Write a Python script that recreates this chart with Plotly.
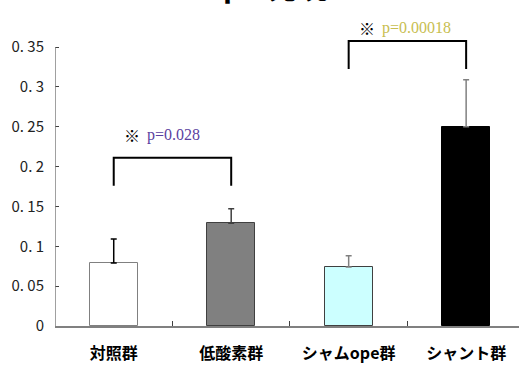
import plotly.graph_objects as go

# Group labels, means and upper error (SD)
groups = ["対照群", "低酸素群", "シャムope群", "シャント群"]
means = [0.079, 0.129, 0.074, 0.250]
errors = [0.030, 0.018, 0.014, 0.059]
fills = ["#FFFFFF", "#808080", "#CCFFFF", "#000000"]
outlines = ["#808080", "#404040", "#404040", "#000000"]
err_colors = ["#000000", "#404040", "#808080", "#808080"]

y_ticks = [0, 0.05, 0.1, 0.15, 0.2, 0.25, 0.3, 0.35]
y_ticktext = ["0", "0. 05", "0. 1", "0. 15", "0. 2", "0. 25", "0. 3", "0. 35"]

# Significance comparisons: (left group, right group, bracket top, leg bottom, label, colour, label height)
comparisons = [
    (0, 1, 0.211, 0.176, "p=0.028", "#5B3FA0", 0.240),
    (2, 3, 0.3576, 0.3225, "p=0.00018", "#C8BE50", 0.374),
]

xs = [i + 0.5 for i in range(len(groups))]

fig = go.Figure()
for x, m, e, f, o, ec in zip(xs, means, errors, fills, outlines, err_colors):
    fig.add_trace(go.Bar(
        x=[x], y=[m], width=0.41,
        marker=dict(color=f, line=dict(color=o, width=1)),
        error_y=dict(type="data", array=[e], arrayminus=[0], symmetric=False,
                     color=ec, thickness=1.5, width=3),
        showlegend=False,
    ))

# y axis line drawn only up to the top tick
fig.add_shape(type="line", x0=0, x1=0, y0=0, y1=0.35, xref="x", yref="y",
              line=dict(color="#808080", width=1.5))

for a, b, top, bottom, label, col, ty in comparisons:
    fig.add_trace(go.Scatter(
        x=[xs[a], xs[a], xs[b], xs[b]], y=[bottom, top, top, bottom],
        mode="lines", line=dict(color="#000000", width=2),
        showlegend=False, hoverinfo="skip",
    ))
    fig.add_annotation(x=xs[a], y=ty, xref="x", yref="y", text="※",
                       showarrow=False, xanchor="left", xshift=8,
                       font=dict(family="Noto Sans CJK JP", size=16, color="#000000"))
    fig.add_annotation(x=xs[a], y=ty, xref="x", yref="y", text=label,
                       showarrow=False, xanchor="left", xshift=31,
                       font=dict(family="Liberation Serif", size=16, color=col))

# Title, mostly beyond the top edge of the page
fig.add_annotation(x=0.414, xref="paper", y=1, yref="paper", text="<b>TGFβ1 発現</b>",
                   showarrow=False, xanchor="center", yanchor="bottom", yshift=-9,
                   font=dict(family="Noto Sans CJK JP", size=30, color="#000000"))

fig.update_layout(
    width=519, height=365,
    margin=dict(l=55, r=0, t=0, b=39),
    paper_bgcolor="#FFFFFF", plot_bgcolor="#FFFFFF",
    bargap=0,
    xaxis=dict(
        range=[0, 3.95], tickvals=xs, ticktext=groups, ticks="",
        tickfont=dict(family="Noto Sans CJK JP", size=16, color="#000000", weight="bold"),
        ticklabelstandoff=12,
        showline=True, linecolor="#808080", linewidth=1.5,
        showgrid=False, zeroline=False,
        minor=dict(tickvals=[1, 2, 3], ticks="inside", ticklen=5,
                   tickcolor="#404040", tickwidth=1, showgrid=False),
    ),
    yaxis=dict(
        range=[0, 0.409], tickvals=y_ticks, ticktext=y_ticktext,
        ticks="inside", ticklen=4, tickcolor="#404040", tickwidth=1,
        tickfont=dict(family="Liberation Sans Narrow, Noto Sans CJK JP", size=15, color="#222222"),
        ticklabelstandoff=10,
        showline=False, showgrid=False, zeroline=False,
    ),
)

fig.write_html("out.html")
